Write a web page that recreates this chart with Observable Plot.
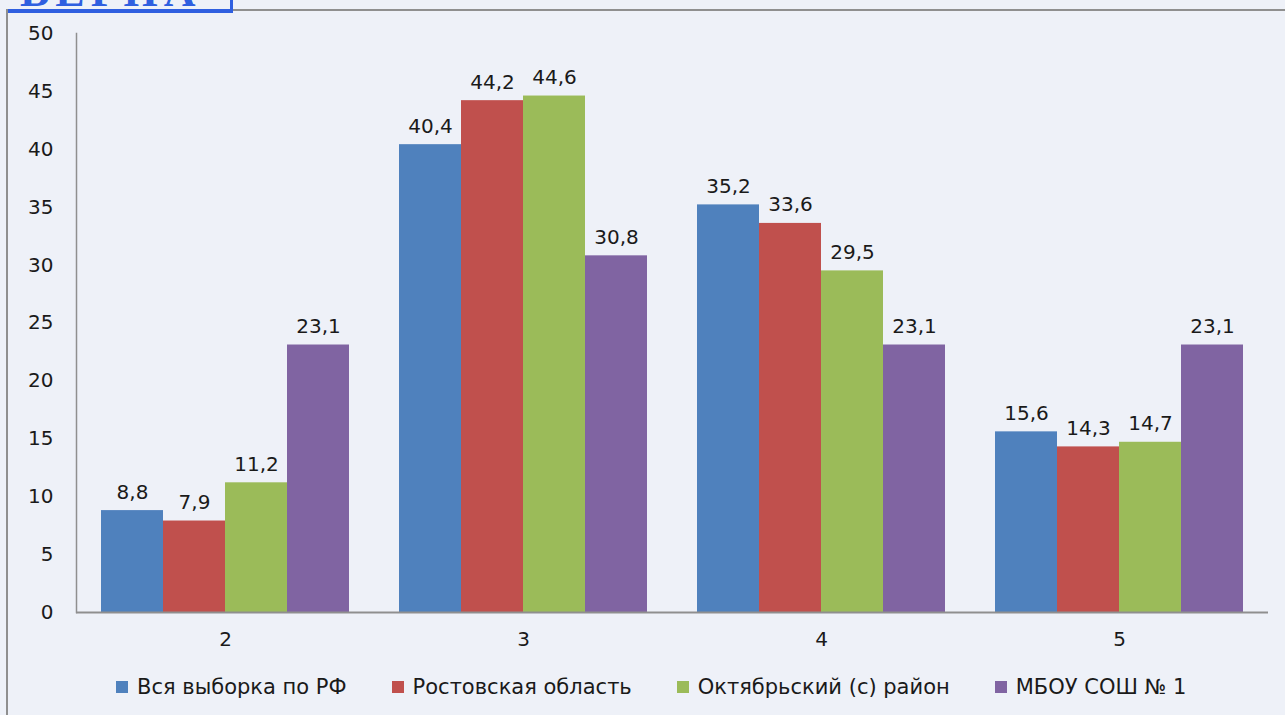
<!DOCTYPE html>
<html>
<head>
<meta charset="utf-8">
<script src="https://cdn.jsdelivr.net/npm/d3@7"></script>
<script src="https://cdn.jsdelivr.net/npm/@observablehq/plot@0.6"></script>
<style>
  html, body { margin: 0; padding: 0; background: #eef1f8; }
  #page { position: relative; width: 1285px; height: 715px; overflow: hidden; background: #eef1f8; font-family: "DejaVu Sans", sans-serif; }
  #chart { position: absolute; left: 0; top: 0; }
  .frame-left { position: absolute; left: 6px; top: 9px; width: 2px; height: 720px; background: #8f8f8f; }
  .frame-top { position: absolute; left: 6px; top: 9px; width: 1300px; height: 2px; background: #8f8f8f; }
  .stamp { position: absolute; left: 8px; top: 0; width: 222px; height: 9px; overflow: hidden; border-bottom: 4px solid #2f5fe0; border-right: 3px solid #2f5fe0; }
  .stamp span { position: absolute; left: 12px; top: -34px; font-family: "Liberation Serif", serif; font-weight: bold; font-size: 44px; letter-spacing: 6px; color: #2f5fe0; }
  #legend { position: absolute; top: 675px; left: 116px; display: flex; gap: 45px; font-size: 21px; color: #1a1a1a; white-space: nowrap; }
  .item { display: flex; align-items: center; }
  .sw { width: 12px; height: 12px; margin-right: 9px; }
</style>
</head>
<body>
<div id="page">
  <div class="frame-left"></div>
  <div class="frame-top"></div>
  <div class="stamp"><span>ВЕРНА</span></div>
  <div id="chart"></div>
  <div id="legend"></div>
</div>
<script>
const groups = ["2", "3", "4", "5"];
const series = ["Вся выборка по РФ", "Ростовская область", "Октябрьский (с) район", "МБОУ СОШ № 1"];
const colors = ["#4f81bd", "#c0504d", "#9bbb59", "#8064a2"];
const valuesRF = [8.8, 40.4, 35.2, 15.6];
const valuesRostov = [7.9, 44.2, 33.6, 14.3];
const valuesOkt = [11.2, 44.6, 29.5, 14.7];
const valuesSchool = [23.1, 30.8, 23.1, 23.1];
const yTicks = [0, 5, 10, 15, 20, 25, 30, 35, 40, 45, 50];

const seriesValues = [valuesRF, valuesRostov, valuesOkt, valuesSchool];
const data = [];
groups.forEach((g, gi) => series.forEach((s, si) => data.push({group: g, series: s, value: seriesValues[si][gi]})));
const fmt = v => v.toFixed(1).replace(".", ",");

function build(useSuper) {
  const marks = [
    Plot.barY(data, {fx: "group", x: "series", y: "value", fill: "series"}),
    Plot.text(data, {fx: "group", x: "series", y: "value", text: d => fmt(d.value), dy: -12, lineAnchor: "bottom", fontSize: 20, fill: "#1a1a1a", style: "letter-spacing:0.5px"}),
    Plot.ruleY([0], {stroke: "#8f8f8f", strokeWidth: 2})
  ];
  if (useSuper) marks.push(Plot.frame({anchor: "left", facet: "super", stroke: "#8f8f8f", strokeWidth: 1.5}));
  return Plot.plot({
    width: 1285, height: 660,
    marginLeft: 75, marginRight: 17, marginTop: 33, marginBottom: 48,
    style: {background: "transparent", fontFamily: "DejaVu Sans, sans-serif", fontSize: "20px", color: "#1a1a1a", overflow: "visible"},
    fx: {domain: groups, padding: 0, label: null, axis: "bottom", tickSize: 0, tickPadding: 19},
    x: {domain: series, paddingInner: 0, paddingOuter: 0.367, axis: null},
    y: {domain: [0, 50], ticks: yTicks, label: null, tickSize: 0, tickPadding: 23},
    color: {domain: series, range: colors},
    marks
  });
}
let chart;
try { chart = build(true); } catch (e) { chart = build(false); }
document.getElementById("chart").appendChild(chart);

const legend = document.getElementById("legend");
series.forEach((s, i) => {
  const item = document.createElement("div");
  item.className = "item";
  const sw = document.createElement("div");
  sw.className = "sw";
  sw.style.background = colors[i];
  const t = document.createElement("span");
  t.textContent = s;
  item.appendChild(sw); item.appendChild(t);
  legend.appendChild(item);
});
</script>
</body>
</html>
